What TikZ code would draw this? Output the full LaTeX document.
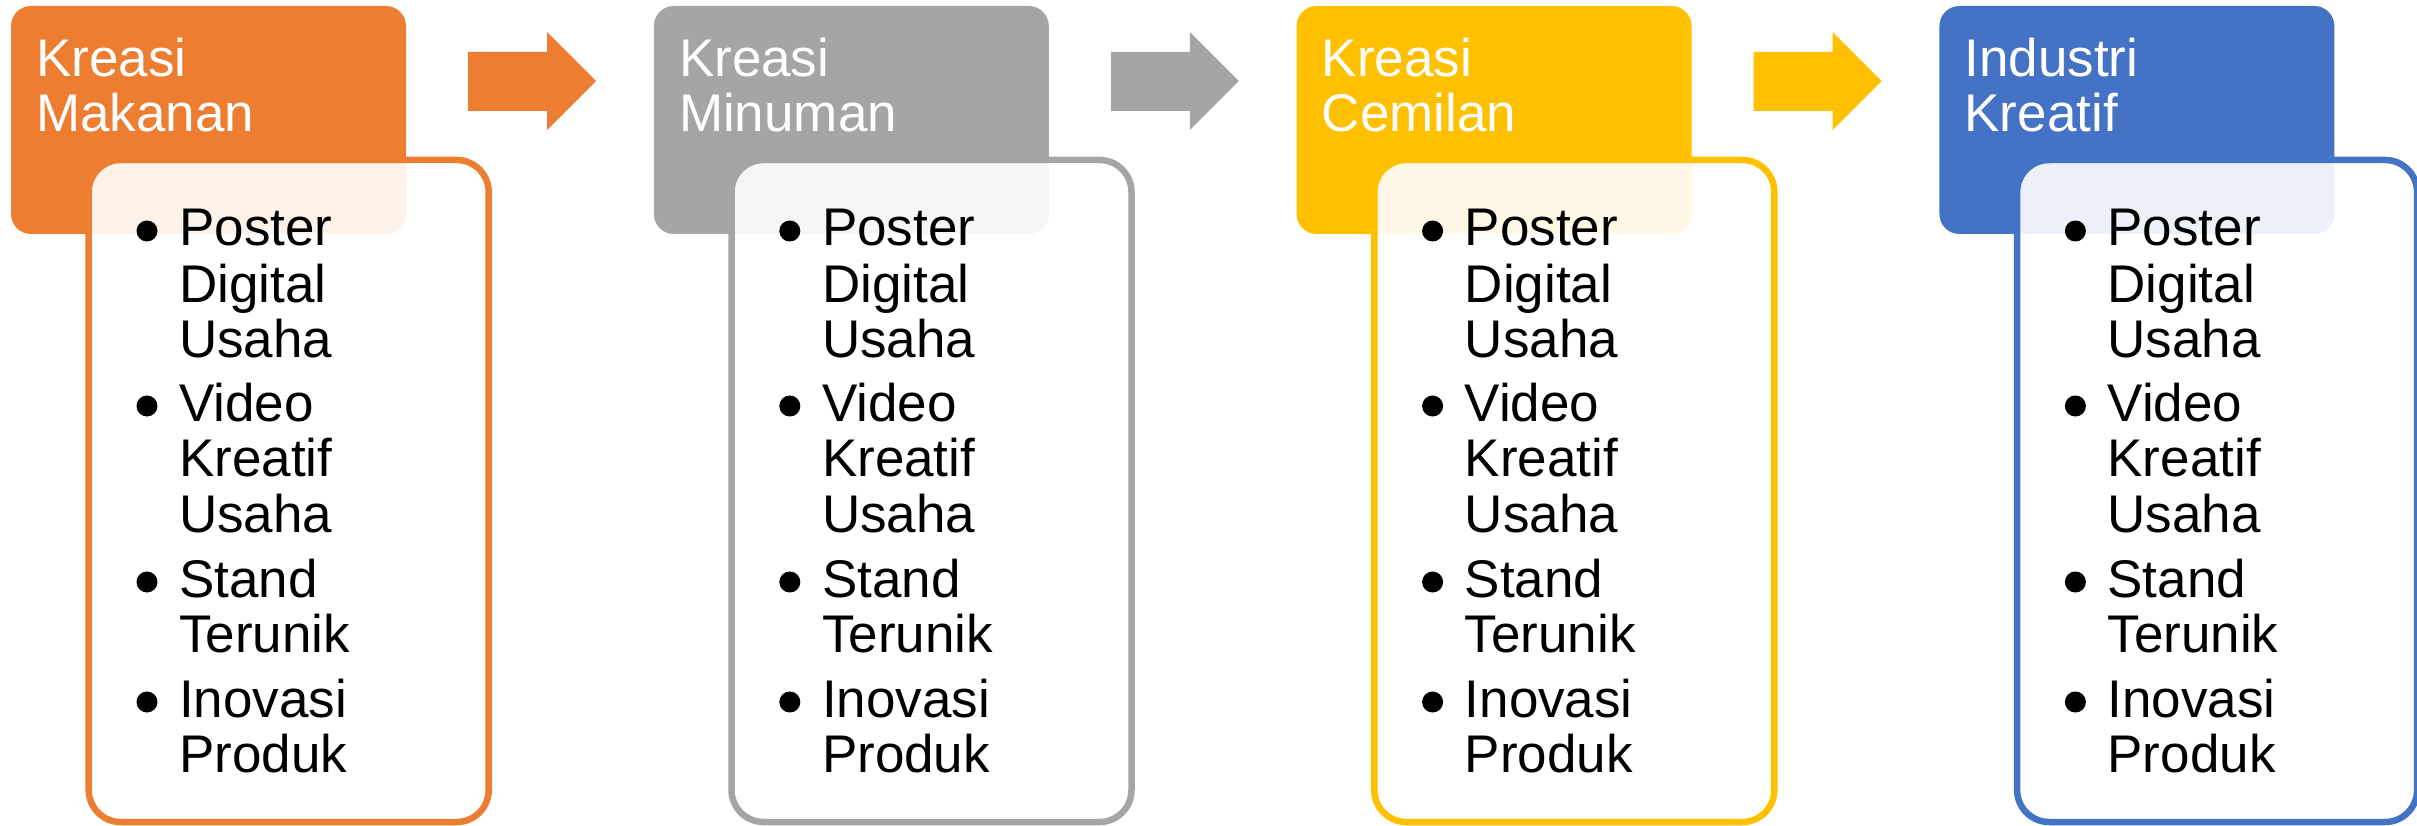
\documentclass[tikz,border=0pt]{standalone}
\usepackage{fontspec}
\setmainfont{Liberation Sans}
\definecolor{oranye}{HTML}{ED7D31}
\definecolor{abu}{HTML}{A5A5A5}
\definecolor{kuning}{HTML}{FFC000}
\definecolor{biru}{HTML}{4472C4}
\begin{document}
\begin{tikzpicture}[x=1pt, y=-1pt,
    judul/.style={fill=#1, rounded corners=20pt, minimum width=395pt, minimum height=228pt, anchor=north west, inner sep=0pt, outer sep=0pt},
    isi/.style={draw=#1, line width=6.5pt, fill=white, fill opacity=0.9, rounded corners=32pt, minimum width=400pt, minimum height=662pt, anchor=north west, inner sep=0pt, outer sep=0pt},
    tulisan/.style={anchor=base west, inner sep=0pt, font=\fontsize{53}{56}\selectfont},
    titik/.style={circle, fill=black, inner sep=0pt, minimum size=21pt}]
    \useasboundingbox (0,0) rectangle (2417,826);
    \foreach \i/\warna/\ja/\jb in {0/oranye/Kreasi/Makanan, 1/abu/Kreasi/Minuman, 2/kuning/Kreasi/Cemilan, 3/biru/Industri/Kreatif} {
        \begin{scope}[xshift=\i*642.8pt]
            \node[judul=\warna] (judul\i) at (11,6) {};
            \node[tulisan, text=white] (ja\i) at (36,77) {\ja};
            \node[tulisan, text=white] (jb\i) at (36,132) {\jb};
            \node[isi=\warna] (isi\i) at (88.7,160) {};
            \foreach \y in {231,406,582,702}
                \node[titik] (titik\i-\y) at (147,\y) {};
            \foreach \y/\kata in {246/Poster,302/Digital,357/Usaha,421/Video,476/Kreatif,532/Usaha,597/Stand,652/Terunik,717/Inovasi,772/Produk}
                \node[tulisan] (kata\i-\y) at (179,\y) {\kata};
        \end{scope}
    }
    \foreach \i/\warna in {0/oranye, 1/abu, 2/kuning}
        \fill[\warna, xshift=\i*642.8pt] (468,52) -- (547,52) -- (547,32) -- (596,81) -- (547,130) -- (547,111) -- (468,111) -- cycle;
\end{tikzpicture}
\end{document}
